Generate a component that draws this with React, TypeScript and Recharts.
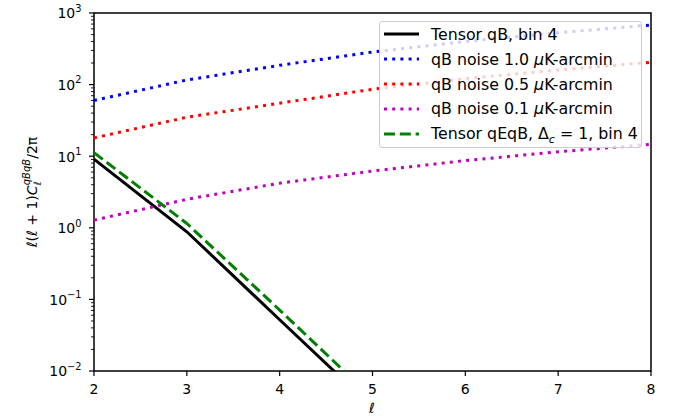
import React from 'react';
import { LineChart, Line, XAxis, YAxis, ReferenceArea } from 'recharts';

// multipoles
const ells = [2, 3, 4, 5, 6, 7, 8];
// tensor signal
const tensorQB = [9.1, 0.88, 0.052, 0.0031, 1.8e-4, 1.1e-5, 6.5e-7];
const tensorQEQB = [11.2, 1.15, 0.071, 0.0042, 2.5e-4, 1.5e-5, 9e-7];
// noise curves
const noise10 = [60, 116, 186, 285, 400, 530, 680];
const noise05 = [18, 35, 55, 86, 121, 160, 205];
const noise01 = [1.28, 2.5, 4.2, 6.2, 8.7, 11.5, 14.7];

const xTicks = [2, 3, 4, 5, 6, 7, 8];
const yMajor = [0.01, 0.1, 1, 10, 100, 1000];
const yMinorSteps = [2, 3, 4, 5, 6, 7, 8, 9];

const data = ells.map((l, i) => ({
    l,
    tensorQB: tensorQB[i],
    tensorQEQB: tensorQEQB[i],
    noise10: noise10[i],
    noise05: noise05[i],
    noise01: noise01[i],
}));

const yTicks = [
    ...yMajor,
    ...yMajor.slice(0, -1).flatMap(d => yMinorSteps.map(k => d * k)),
].sort((a, b) => a - b);

const FONT = '"DejaVu Sans", sans-serif';

const series = [
    { key: 'tensorQB', color: '#000000', dash: undefined as string | undefined, label: <>Tensor qB, bin 4</> },
    { key: 'noise10', color: '#0000ff', dash: '3 5.2', label: <>qB noise 1.0 <i>μ</i>K-arcmin</> },
    { key: 'noise05', color: '#ff0000', dash: '3 5.2', label: <>qB noise 0.5 <i>μ</i>K-arcmin</> },
    { key: 'noise01', color: '#bf00bf', dash: '3 5.2', label: <>qB noise 0.1 <i>μ</i>K-arcmin</> },
    { key: 'tensorQEQB', color: '#008000', dash: '11 4.8', label: <>Tensor qEqB, Δ<sub style={{ fontStyle: 'italic', fontSize: 11, lineHeight: 0 }}>c</sub> = 1, bin 4</> },
];

const YTick = (props: any) => {
    const { x, y, payload } = props;
    const v = payload.value;
    const lg = Math.log10(v);
    const exp = Math.round(lg);
    const major = Math.abs(lg - exp) < 1e-6;
    return (
        <g>
            <line x1={x} x2={x - (major ? 5 : 3)} y1={y} y2={y} stroke="#000" strokeWidth={major ? 1.2 : 0.9} />
            {major && (
                <text x={x - 12.5} y={y + 5.3} textAnchor="end" fontSize={14} fontFamily={FONT} fill="#000">
                    10<tspan dy={-6.6} fontSize={9.8}>{exp < 0 ? '−' + Math.abs(exp) : exp}</tspan>
                </text>
            )}
        </g>
    );
};

const XTick = (props: any) => {
    const { x, y, payload } = props;
    return (
        <g>
            <line x1={x} x2={x} y1={y} y2={y + 5} stroke="#000" strokeWidth={1.2} />
            <text x={x} y={y + 23} textAnchor="middle" fontSize={14} fontFamily={FONT} fill="#000">{payload.value}</text>
        </g>
    );
};

const YLabel = () => (
    <text transform="translate(37,192) rotate(-90)" textAnchor="middle" fontSize={14} fontFamily={FONT} fill="#000">
        <tspan fontStyle="italic">ℓ</tspan>(<tspan fontStyle="italic">ℓ</tspan> + 1)<tspan fontStyle="italic">C</tspan>
        <tspan fontStyle="italic" fontSize={10} dy={4}>ℓ</tspan>
        <tspan fontStyle="italic" fontSize={10} dx={-4} dy={-11}>qBqB</tspan>
        <tspan dy={7}>/2π</tspan>
    </text>
);

const XLabel = () => (
    <text x={372} y={413} textAnchor="middle" fontSize={14} fontFamily={FONT} fontStyle="italic" fill="#000">ℓ</text>
);

export default function App() {
    return (
        <div style={{ position: 'absolute', left: 0, top: 0, width: 675, height: 417, background: '#fff' }}>
            <LineChart width={675} height={417} data={data} margin={{ top: 13, right: 24, bottom: 0, left: 0 }}>
                <XAxis
                    dataKey="l"
                    type="number"
                    domain={[2, 8]}
                    ticks={xTicks}
                    interval={0}
                    height={46}
                    tickLine={false}
                    tickSize={0}
                    tickMargin={0}
                    tick={<XTick />}
                    axisLine={false}
                    allowDataOverflow
                    label={<XLabel />}
                />
                <YAxis
                    type="number"
                    scale="log"
                    domain={[0.01, 1000]}
                    ticks={yTicks}
                    interval={0}
                    width={94}
                    tickLine={false}
                    tickSize={0}
                    tickMargin={0}
                    tick={<YTick />}
                    axisLine={false}
                    allowDataOverflow
                    label={<YLabel />}
                />
                {series.map(s => (
                    <Line
                        key={s.key}
                        dataKey={s.key}
                        type="linear"
                        stroke={s.color}
                        strokeWidth={3}
                        strokeDasharray={s.dash}
                        dot={false}
                        activeDot={false}
                        isAnimationActive={false}
                    />
                ))}
                <ReferenceArea x1={2} x2={8} y1={0.01} y2={1000} fill="none" stroke="#000" strokeWidth={1.5} ifOverflow="visible" />
            </LineChart>
            <div
                style={{
                    position: 'absolute', left: 379, top: 21, width: 263, height: 127, boxSizing: 'border-box',
                    border: '1px solid #cccccc', borderRadius: 3, background: 'rgba(255,255,255,0.8)',
                    fontFamily: FONT, fontSize: 15.8, color: '#000',
                }}
            >
                {series.map((s, i) => (
                    <div key={s.key} style={{ position: 'absolute', left: 4, top: i * 24.85, height: 24.85, display: 'flex', alignItems: 'center', whiteSpace: 'nowrap' }}>
                        <svg width={35} height={10} style={{ marginRight: 12 }}>
                            <line x1={0} x2={35} y1={5} y2={5} stroke={s.color} strokeWidth={3} strokeDasharray={s.dash} />
                        </svg>
                        <span>{s.label}</span>
                    </div>
                ))}
            </div>
        </div>
    );
}
